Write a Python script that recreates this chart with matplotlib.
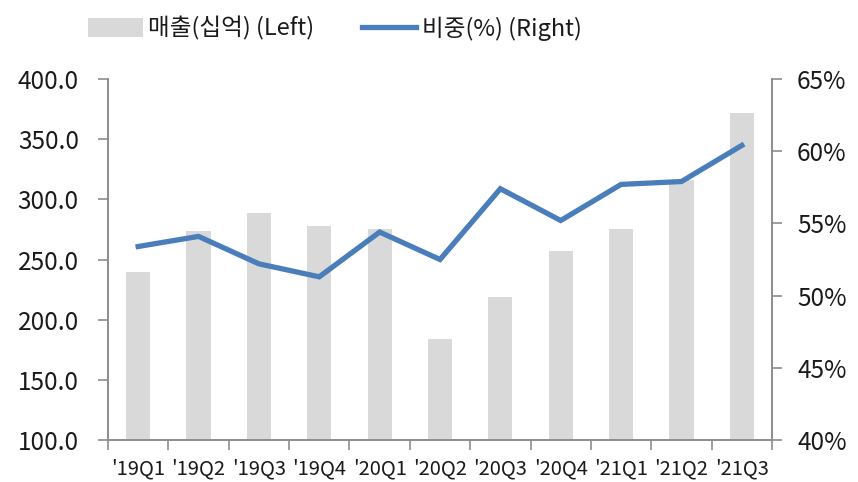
import matplotlib
matplotlib.use('Agg')
import matplotlib.pyplot as plt
import numpy as np
from matplotlib.ticker import FuncFormatter, FixedLocator

plt.rcParams['font.family'] = ['Noto Sans CJK KR', 'DejaVu Sans']

# data
quarters = ["'19Q1", "'19Q2", "'19Q3", "'19Q4", "'20Q1", "'20Q2",
            "'20Q3", "'20Q4", "'21Q1", "'21Q2", "'21Q3"]
sales = [240, 274, 289, 278, 275, 184, 219, 257, 275, 316, 372]
share = [53.4, 54.1, 52.2, 51.3, 54.4, 52.5, 57.4, 55.2, 57.7, 57.9, 60.4]

barColor = '#d9d9d9'
lineColor = '#4a7ebb'
axisColor = '#8c8c8c'
textColor = '#1a1a1a'

fig = plt.figure(figsize=(8.58, 4.82), dpi=100)
ax = fig.add_axes([108/858, 42/482, (772-108)/858, (440-79)/482])
ax2 = ax.twinx()

x = np.arange(len(quarters))
bars = ax.bar(x, sales, width=0.4, color=barColor, zorder=1)
line, = ax2.plot(x, share, color=lineColor, linewidth=3.8, solid_joinstyle='miter', zorder=3)

ax.set_xlim(-0.5, len(quarters) - 0.5)
ax.set_ylim(100, 400)
ax.set_yticks(np.arange(100, 401, 50))
ax.yaxis.set_major_formatter(FuncFormatter(lambda v, p: '%.1f' % v))
ax2.set_ylim(40, 65)
ax2.set_yticks(np.arange(40, 66, 5))
ax2.yaxis.set_major_formatter(FuncFormatter(lambda v, p: '%d%%' % v))

ax.set_xticks(x)
ax.set_xticklabels(quarters)
ax.xaxis.set_minor_locator(FixedLocator(np.arange(-0.5, len(quarters), 1)))
ax.tick_params(axis='x', which='major', length=0, pad=13, labelsize=14.5, colors=textColor)
ax.tick_params(axis='x', which='minor', length=7, width=1.2, color=axisColor)
ax.tick_params(axis='y', length=7, width=1.2, color=axisColor, labelsize=17.5, labelcolor=textColor, pad=14)
ax2.tick_params(axis='y', length=7, width=1.2, color=axisColor, labelsize=17.5, labelcolor=textColor, pad=11)

for a in (ax, ax2):
    a.spines['top'].set_visible(False)
    for s in ('left', 'right', 'bottom'):
        a.spines[s].set_color(axisColor)
        a.spines[s].set_linewidth(1.2)

ax.set_zorder(ax2.get_zorder() - 1)
ax2.patch.set_visible(False)

fig.legend([bars, line], ['매출(십억) (Left)', '비중(%) (Right)'],
           loc='upper left', bbox_to_anchor=(67/858, 1.01), ncol=2, frameon=False,
           fontsize=17, handlelength=2.3, handleheight=0.85, handletextpad=0.25,
           columnspacing=2.0, labelcolor=textColor)

plt.savefig('out.png', dpi=100)
